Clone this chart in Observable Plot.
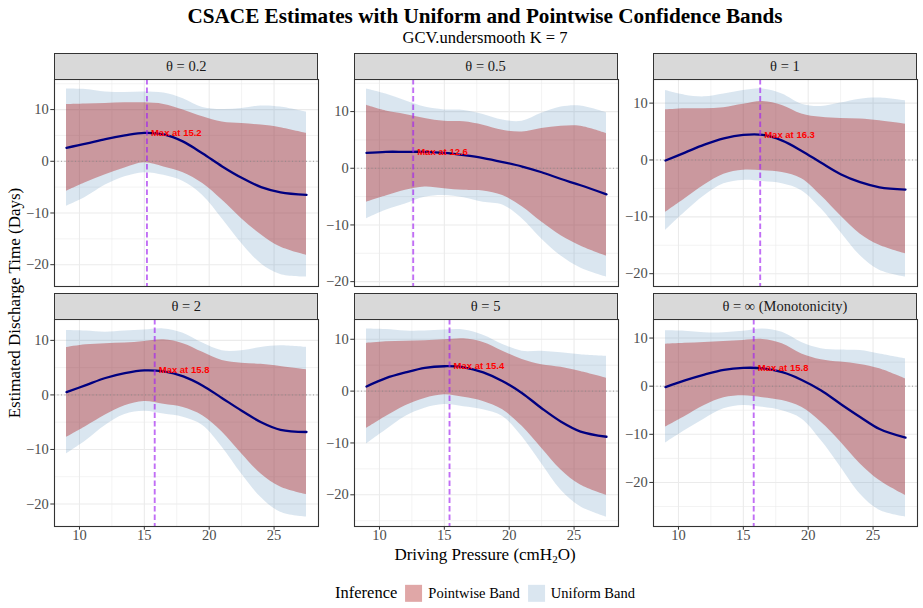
<!DOCTYPE html>
<html><head><meta charset="utf-8">
<script src="https://cdn.jsdelivr.net/npm/d3@7"></script>
<script src="https://cdn.jsdelivr.net/npm/@observablehq/plot@0.6"></script>
<style>
body{margin:0;background:#fff;}
#root{position:relative;width:923px;height:608px;overflow:hidden;font-family:"Liberation Serif","Times New Roman",serif;background:#fff;}
.c{position:absolute;transform:translate(-50%,-50%);white-space:nowrap;}
.strip{position:absolute;background:#D9D9D9;border:1px solid #333;box-sizing:border-box;text-align:center;font-size:14.5px;color:#1a1a1a;}
.panel{position:absolute;}
.key{display:inline-block;width:17px;height:17px;vertical-align:middle;}
</style></head>
<body><div id="root"></div>
<script>
// ---- data ----
const xs = [9, 10.5, 12, 13.5, 15, 16.5, 18, 19.5, 21, 22.5, 24, 25.5, 27.5];
const panelLabels = ["θ = 0.2", "θ = 0.5", "θ = 1", "θ = 2", "θ = 5", "θ = ∞ (Monotonicity)"];
const maxAt = [15.2, 12.6, 16.3, 15.8, 15.4, 15.8];
const estimate = [
  [2.6, 3.4, 4.3, 5.0, 5.5, 5.2, 3.8, 1.5, -1.0, -3.2, -5.0, -6.0, -6.5],
  [2.7, 2.9, 2.9, 2.9, 2.7, 2.3, 1.8, 1.1, 0.3, -0.7, -1.9, -3.0, -4.6],
  [-0.1, 1.3, 2.7, 3.8, 4.4, 4.4, 3.4, 1.6, -0.5, -2.5, -3.9, -4.8, -5.2],
  [0.5, 1.8, 3.1, 4.0, 4.5, 4.3, 3.4, 1.7, -0.6, -2.9, -5.0, -6.4, -6.8],
  [0.9, 2.5, 3.6, 4.5, 4.8, 4.6, 3.6, 1.9, -0.4, -3.3, -5.9, -7.8, -8.8],
  [-0.2, 1.2, 2.4, 3.4, 3.8, 3.7, 2.9, 1.3, -0.9, -3.7, -6.4, -8.9, -10.7]
];
const pointwiseLower = [
  [-5.8, -4.1, -2.6, -1.3, -0.3, -1.1, -2.2, -4.3, -7.5, -11.1, -14.2, -16.6, -18.2],
  [-6.0, -4.9, -3.9, -3.3, -3.6, -3.9, -4.0, -4.8, -6.8, -9.5, -11.9, -13.7, -15.5],
  [-9.2, -6.8, -4.4, -2.5, -1.8, -1.9, -2.2, -3.3, -6.3, -9.8, -13.0, -15.0, -16.5],
  [-7.8, -5.8, -3.7, -2.0, -1.2, -1.7, -2.3, -3.8, -6.8, -10.8, -14.5, -16.9, -18.3],
  [-7.2, -4.9, -2.8, -1.4, -0.7, -1.2, -2.0, -3.6, -6.8, -11.0, -15.2, -18.1, -20.1],
  [-8.5, -6.3, -4.0, -2.4, -2.0, -2.4, -3.0, -4.4, -7.5, -11.6, -16.1, -19.6, -22.7]
];
const pointwiseUpper = [
  [11.0, 11.1, 11.2, 11.3, 11.3, 11.0, 9.9, 8.6, 7.6, 7.3, 7.0, 6.5, 5.4],
  [11.1, 10.1, 9.5, 8.8, 8.3, 8.2, 7.6, 6.7, 6.4, 7.0, 7.4, 7.4, 6.1],
  [8.8, 9.0, 9.0, 9.2, 9.8, 10.3, 9.6, 8.1, 7.5, 7.3, 7.2, 6.9, 6.3],
  [8.7, 9.2, 9.4, 9.5, 9.8, 10.1, 9.4, 7.8, 6.3, 5.8, 5.6, 5.2, 4.6],
  [9.2, 9.5, 9.6, 9.7, 9.9, 10.1, 9.4, 7.7, 6.1, 5.1, 4.6, 3.8, 2.5],
  [8.7, 8.9, 9.1, 9.3, 9.5, 9.7, 8.8, 6.7, 5.5, 5.0, 4.5, 3.6, 1.5]
];
const uniformLower = [
  [-8.7, -6.9, -4.6, -3.0, -2.2, -2.7, -3.9, -6.6, -11.1, -15.9, -19.8, -21.9, -22.4],
  [-8.9, -7.4, -6.3, -5.1, -4.8, -5.2, -6.0, -6.5, -8.9, -12.5, -15.5, -17.6, -19.2],
  [-12.4, -9.2, -6.3, -4.2, -3.6, -3.8, -4.2, -5.4, -8.6, -12.7, -16.8, -19.4, -20.6],
  [-10.8, -8.4, -5.6, -3.6, -3.0, -3.5, -4.1, -5.6, -9.6, -14.5, -18.8, -21.5, -22.4],
  [-10.2, -7.5, -4.9, -3.3, -2.6, -3.0, -3.6, -4.9, -8.8, -14.0, -19.1, -22.3, -24.3],
  [-11.8, -9.2, -6.8, -4.7, -4.0, -4.4, -5.1, -6.8, -11.3, -16.8, -22.4, -25.8, -27.2]
];
const uniformUpper = [
  [14.0, 13.9, 13.4, 13.3, 13.4, 13.2, 12.1, 10.4, 10.0, 10.2, 10.7, 10.5, 9.5],
  [14.0, 13.1, 11.9, 10.8, 10.3, 10.2, 9.5, 8.5, 8.3, 9.7, 10.8, 11.0, 9.8],
  [12.2, 11.4, 11.1, 11.6, 12.2, 12.5, 11.6, 9.8, 9.4, 10.0, 10.7, 10.9, 10.4],
  [11.8, 11.7, 11.5, 11.7, 11.9, 12.1, 11.3, 9.5, 8.1, 8.1, 8.7, 9.0, 8.7],
  [12.0, 11.9, 11.6, 11.6, 11.8, 11.8, 10.8, 9.0, 7.7, 7.7, 7.4, 7.0, 6.7],
  [11.5, 11.4, 11.1, 11.1, 11.4, 11.9, 11.2, 9.1, 7.8, 7.5, 7.4, 6.7, 5.7]
];
const xTicks = [10, 15, 20, 25];
const xMinorTicks = [12.5, 17.5, 22.5];
const legendLabels = ["Pointwise Band", "Uniform Band"];

// ---- layout ----
const root = document.getElementById("root");
const colLeft = [54.3, 353.6, 652.9];
const rowTop = [79, 319];
const PW = 264, PH = 207, ML = 40, SH = 26;
const pwFill = "firebrick", unFill = "steelblue";

function addDiv(cls, html, x, y, extra) {
  const d = document.createElement("div");
  d.className = cls; d.innerHTML = html;
  d.style.left = x + "px"; d.style.top = y + "px";
  if (extra) Object.assign(d.style, extra);
  root.appendChild(d); return d;
}

addDiv("c", "CSACE Estimates with Uniform and Pointwise Confidence Bands", 485, 16, {fontWeight: "bold", fontSize: "21.2px", color: "#000"});
addDiv("c", "GCV.undersmooth K = 7", 485, 38, {fontSize: "16.5px", color: "#000"});

const xDomRaw = d3.extent(xs);
const xPad = (xDomRaw[1] - xDomRaw[0]) * 0.05;
const xDom = [xDomRaw[0] - xPad, xDomRaw[1] + xPad];
const curve = "catmull-rom";

for (let i = 0; i < 6; i++) {
  const r = Math.floor(i / 3), c = i % 3;
  const L = colLeft[c], T = rowTop[r];
  const bottom = r === 1;
  const data = xs.map((x, j) => ({x, est: estimate[i][j], pl: pointwiseLower[i][j], pu: pointwiseUpper[i][j], ul: uniformLower[i][j], uu: uniformUpper[i][j]}));
  const lo = d3.min(data, d => Math.min(d.ul, d.pl, d.est));
  const hi = d3.max(data, d => Math.max(d.uu, d.pu, d.est));
  const pad = (hi - lo) * 0.05;
  const yDom = [lo - pad, hi + pad];
  const major = d3.range(Math.ceil(yDom[0] / 10) * 10, yDom[1], 10);
  const minor = d3.range(Math.ceil(yDom[0] / 5) * 5, yDom[1], 5).filter(v => Math.abs(v % 10) > 0.1);
  const maxVal = d3.max(estimate[i]);
  const MB = bottom ? 26 : 1;
  const plot = Plot.plot({
    width: ML + PW + 2, height: PH + 1 + MB,
    marginLeft: ML, marginRight: 2, marginTop: 1, marginBottom: MB,
    x: {domain: xDom, axis: null},
    y: {domain: yDom, axis: null},
    style: {fontFamily: "Liberation Serif, serif", fontSize: "14.5px", background: "transparent", overflow: "visible"},
    marks: [
      Plot.gridX(xMinorTicks, {stroke: "#ebebeb", strokeOpacity: 1, strokeWidth: 0.6}),
      Plot.gridY(minor, {stroke: "#ebebeb", strokeOpacity: 1, strokeWidth: 0.6}),
      Plot.gridX(xTicks, {stroke: "#ebebeb", strokeOpacity: 1, strokeWidth: 1.1}),
      Plot.gridY(major, {stroke: "#ebebeb", strokeOpacity: 1, strokeWidth: 1.1}),
      Plot.areaY(data, {x: "x", y1: "ul", y2: "uu", fill: unFill, fillOpacity: 0.2, curve}),
      Plot.areaY(data, {x: "x", y1: "pl", y2: "pu", fill: pwFill, fillOpacity: 0.4, curve}),
      Plot.ruleY([0], {stroke: "#888", strokeWidth: 0.8, strokeDasharray: "1,2.5"}),
      Plot.line(data, {x: "x", y: "est", stroke: "navy", strokeWidth: 2.3, curve}),
      Plot.ruleX([maxAt[i]], {stroke: "#a020f0", strokeOpacity: 0.65, strokeWidth: 1.9, strokeDasharray: "5.5,3"}),
      Plot.text([{x: maxAt[i], y: maxVal}], {x: "x", y: "y", text: d => `Max at ${d.x}`, dx: 4, textAnchor: "start", fill: "red", fontWeight: "bold", fontSize: 9.5, fontFamily: "Liberation Sans, Arial, sans-serif"}),
      Plot.axisY(major, {anchor: "left", tickSize: 3.7, tickPadding: 2, stroke: "#333", fill: "#4d4d4d", fontSize: 14.5, tickFormat: d3.format("d"), label: null}),
      bottom ? Plot.axisX(xTicks, {anchor: "bottom", tickSize: 3.7, tickPadding: 0, stroke: "#333", fill: "#4d4d4d", fontSize: 14.5, tickFormat: d3.format("d"), label: null}) : null,
      Plot.frame({stroke: "#333", strokeWidth: 1.1})
    ]
  });
  const holder = addDiv("panel", "", L - ML, T - 1);
  holder.appendChild(plot);
  addDiv("strip", panelLabels[i], L, T - SH, {width: PW + "px", height: (SH + 0.5) + "px", lineHeight: (SH - 2) + "px"});
}

addDiv("c", "Estimated Discharge Time (Days)", 15, 303, {fontSize: "17px", transform: "translate(-50%,-50%) rotate(-90deg)"});
addDiv("c", "Driving Pressure (cmH<sub style='font-size:11px;vertical-align:-3px;line-height:0'>2</sub>O)", 485, 555, {fontSize: "17px"});

addDiv("c",
  `<span style="font-size:16.5px;vertical-align:middle">Inference</span>` +
  `<span class="key" style="background:${pwFill};opacity:0.4;margin-left:8px"></span>` +
  `<span style="font-size:14.5px;vertical-align:middle;margin-left:6px">${legendLabels[0]}</span>` +
  `<span class="key" style="background:${unFill};opacity:0.2;margin-left:8px"></span>` +
  `<span style="font-size:14.5px;vertical-align:middle;margin-left:6px">${legendLabels[1]}</span>`,
  485, 593);
</script>
</body></html>
